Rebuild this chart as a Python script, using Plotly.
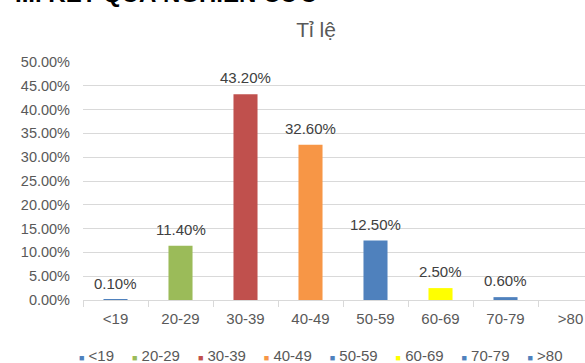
import plotly.graph_objects as go

categories = ["<19", "20-29", "30-39", "40-49", "50-59", "60-69", "70-79", ">80"]
values = [0.001, 0.114, 0.432, 0.326, 0.125, 0.025, 0.006, None]
labels = ["0.10%", "11.40%", "43.20%", "32.60%", "12.50%", "2.50%", "0.60%", ""]
colors = ["#4F81BD", "#9BBB59", "#C0504D", "#F79646", "#4F81BD", "#FFFF00", "#4F81BD", "#4F81BD"]
y_ticks = [i * 0.05 for i in range(11)]

FONT = "Liberation Sans, Arial, sans-serif"
GRAY = "#595959"

fig = go.Figure()
fig.add_trace(go.Bar(
    x=categories, y=values, marker=dict(color=colors, line=dict(width=0)),
    showlegend=False, hoverinfo="skip",
))

# data labels
for c, v, t in zip(categories, values, labels):
    if v is None or not t:
        continue
    fig.add_annotation(x=c, y=v, xref="x", yref="y", text=t, showarrow=False,
                       yanchor="bottom", yshift=6,
                       font=dict(family=FONT, size=15, color="#404040"))

# legend (drawn as text)
def esc(s):
    return s.replace("<", "&lt;").replace(">", "&gt;")

parts = []
for c, col in zip(categories, colors):
    parts.append('<span style="color:%s;font-size:9px">■</span>\u00a0%s' % (col, esc(c)))
legend_text = ("\u00a0" * 4 + "\u200a").join(parts)
fig.add_annotation(x=(320 - 83) / 502, y=(300 - 355) / 238, xref="paper", yref="paper",
                   text=legend_text, showarrow=False, xanchor="center", yanchor="middle",
                   font=dict(family=FONT, size=15, color=GRAY))

# cropped heading at very top (partly cut off, as in the source image)
fig.add_annotation(x=(13 - 83) / 502, y=(300 - 9) / 238, xref="paper", yref="paper",
                   text="<b>III. KẾT QUẢ NGHIÊN CỨU</b>", showarrow=False,
                   xanchor="left", yanchor="bottom",
                   font=dict(family=FONT, size=24, color="#000000"))

fig.update_layout(
    width=585, height=363,
    margin=dict(l=83, r=0, t=62, b=63),
    paper_bgcolor="white", plot_bgcolor="white",
    bargap=0.63,
    font=dict(family=FONT, size=15, color=GRAY),
    title=dict(text="Tỉ lệ", x=(316 - 83) / 502, xref="paper", xanchor="center",
               y=1 - 30 / 363, yref="container", yanchor="middle",
               font=dict(family=FONT, size=21, color=GRAY)),
    xaxis=dict(type="category", range=[-0.5, 7.5 - 18 / 65],
               showgrid=False, showline=True, linecolor="#D9D9D9", linewidth=1,
               ticks="outside", tickson="boundaries", ticklen=6, tickcolor="#D9D9D9",
               ticklabelstandoff=5,
               tickfont=dict(family=FONT, size=15, color=GRAY)),
    yaxis=dict(range=[0, 0.5], tickvals=y_ticks, tickformat=".2%",
               showgrid=True, gridcolor="#D9D9D9", gridwidth=1,
               zeroline=False, showline=False, ticks="",
               ticklabelstandoff=12,
               tickfont=dict(family=FONT, size=14.5, color=GRAY)),
)

fig.write_html("out.html")
